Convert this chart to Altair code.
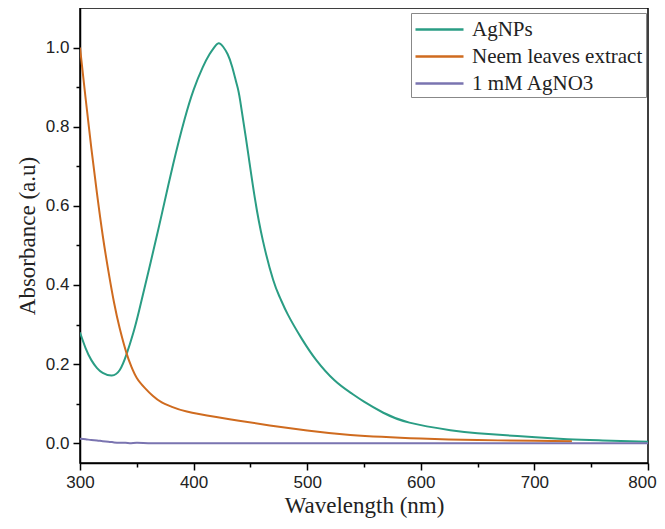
import altair as alt
import pandas as pd

# AgNPs spectrum
ag_wl = [300, 305, 310, 315, 320, 328, 335, 341, 347, 352, 362, 372, 382, 392, 400, 408, 414, 418, 422, 426, 430, 434, 438, 441, 448, 454, 461, 470, 476, 483, 495, 508, 524, 538, 550, 567, 590, 626, 650, 685, 729, 760, 800]
ag_abs = [0.28, 0.24, 0.21, 0.19, 0.178, 0.171, 0.185, 0.225, 0.28, 0.335, 0.455, 0.579, 0.705, 0.818, 0.893, 0.950, 0.983, 1.0, 1.011, 1.002, 0.983, 0.951, 0.907, 0.866, 0.733, 0.618, 0.512, 0.413, 0.368, 0.325, 0.265, 0.21, 0.159, 0.128, 0.105, 0.077, 0.052, 0.033, 0.025, 0.018, 0.01, 0.007, 0.004]

# Neem leaves extract spectrum
neem_wl = [300, 305, 310, 315, 320, 325, 330, 335, 341, 345, 350, 357, 364, 372, 380, 394, 420, 440, 467, 500, 538, 600, 650, 700, 733]
neem_abs = [1.0, 0.87, 0.745, 0.63, 0.525, 0.435, 0.355, 0.29, 0.227, 0.195, 0.165, 0.14, 0.12, 0.103, 0.093, 0.08, 0.066, 0.057, 0.045, 0.032, 0.021, 0.012, 0.008, 0.006, 0.005]

# 1 mM AgNO3 spectrum
agno3_wl = [300, 305, 310, 315, 320, 325, 330, 335, 340, 345, 350, 360, 370, 400, 500, 600, 700, 800]
agno3_abs = [0.011, 0.010, 0.008, 0.007, 0.005, 0.004, 0.002, 0.001, 0.001, 0.0, 0.001, 0.0, 0.0, 0.0, 0.0, 0.0, 0.0, 0.0]

series = ["AgNPs", "Neem leaves extract", "1 mM AgNO3"]
colors = ["#2a9d84", "#cf6b1f", "#7a74b0"]

rows = []
for name, wl, ab in [(series[0], ag_wl, ag_abs), (series[1], neem_wl, neem_abs), (series[2], agno3_wl, agno3_abs)]:
    for w, a in zip(wl, ab):
        rows.append({"Wavelength": w, "Absorbance": a, "Sample": name})
df = pd.DataFrame(rows)

x_major = [300, 400, 500, 600, 700, 800]
x_minor = [350, 450, 550, 650, 750]
y_major = [0.0, 0.2, 0.4, 0.6, 0.8, 1.0]
y_minor = [0.1, 0.3, 0.5, 0.7, 0.9]

xscale = alt.Scale(domain=[300, 800], nice=False, zero=False)
yscale = alt.Scale(domain=[-0.05, 1.1], nice=False, zero=False)

lines = alt.Chart(df).mark_line(strokeWidth=2, interpolate="natural", clip=True).encode(
    x=alt.X("Wavelength:Q", scale=xscale,
            axis=alt.Axis(orient="bottom", values=x_major, title="Wavelength (nm)", tickSize=7, labelFontSize=17,
                          labelFont="Liberation Sans", titleFont="Liberation Serif", titleFontSize=23,
                          titleFontWeight="normal", labelPadding=4, titlePadding=4, grid=False,
                          labelFlush=False,
                          labelOffset={"condition": {"test": "datum.value == 800", "value": -6}, "value": 0},
                          domainColor="black", tickColor="black", labelColor="#222", titleColor="#222",
                          domainWidth=1.5, tickWidth=1.5)),
    y=alt.Y("Absorbance:Q", scale=yscale,
            axis=alt.Axis(orient="left", values=y_major, format=".1f", title="Absorbance (a.u)", tickSize=7, labelFontSize=17,
                          labelFont="Liberation Sans", titleFont="Liberation Serif", titleFontSize=23,
                          titleFontWeight="normal", labelPadding=4, titlePadding=6, grid=False,
                          domainColor="black", tickColor="black", labelColor="#222", titleColor="#222",
                          domainWidth=1.5, tickWidth=1.5)),
    color=alt.Color("Sample:N", scale=alt.Scale(domain=series, range=colors),
                    sort=series,
                    legend=alt.Legend(title=None, orient="none", legendX=331, legendY=5,
                                      labelFont="Liberation Serif", labelFontSize=21, labelColor="#222",
                                      symbolType="M-1,0H3", symbolSize=576, symbolStrokeWidth=2.5,
                                      strokeColor="#888", fillColor="white", padding=3,
                                      rowPadding=3, labelOffset=31, labelLimit=400)),
)

minor = alt.Chart(df).mark_point(opacity=0).encode(
    x=alt.X("Wavelength:Q", scale=xscale,
            axis=alt.Axis(orient="bottom", values=x_minor, labels=False, title=None, tickSize=4, grid=False,
                          domain=False, tickColor="black", tickWidth=1.5)),
    y=alt.Y("Absorbance:Q", scale=yscale,
            axis=alt.Axis(orient="left", values=y_minor, labels=False, title=None, tickSize=4, grid=False,
                          domain=False, tickColor="black", tickWidth=1.5)),
)

chart = alt.layer(minor, lines).resolve_axis(x="independent", y="independent").properties(
    width=568, height=455,
    autosize=alt.AutoSizeParams(type="none"),
    padding={"left": 72, "top": 0, "right": 9, "bottom": 58},
).configure_view(stroke="black", strokeWidth=1.5)

chart.save("out.html", embed_options={"renderer": "svg", "actions": False})
